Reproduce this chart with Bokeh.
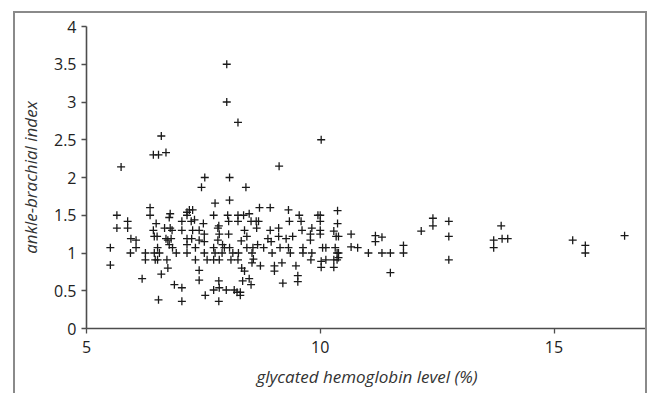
from bokeh.plotting import figure
from bokeh.embed import file_html
from bokeh.resources import INLINE
from bokeh.models import FixedTicker, Range1d

hba1c = [
    8.0, 8.0, 8.24, 6.6, 6.43, 6.54, 6.70, 5.74, 10.02, 9.12, 7.53, 8.06, 7.46, 8.41, 8.06, 7.75,
    5.51, 5.51, 5.65, 5.65, 5.88, 5.88, 5.94, 5.95, 6.06, 6.06, 6.19, 6.26, 6.26, 6.36, 6.36,
    6.43, 6.49, 6.45, 6.51, 6.45, 6.52, 6.47, 6.52, 6.54, 6.60, 6.56, 6.67, 6.70, 6.74, 6.72,
    6.74, 6.77, 6.79, 6.81, 6.79, 6.77, 6.88, 6.92, 6.83, 6.84, 7.04, 7.04, 7.04, 7.04, 7.15,
    7.15, 7.15, 7.15, 7.15, 7.20, 7.27, 7.24, 7.25, 7.27, 7.33, 7.33, 7.31, 7.41, 7.41, 7.50,
    7.52, 7.52, 7.52, 7.54, 7.41, 7.41, 7.58, 7.72, 7.72, 7.72, 7.72, 7.75, 7.81, 7.84, 7.81,
    7.83, 7.84, 7.83, 7.84, 7.83, 7.91, 7.95, 7.90, 7.99, 8.02, 8.04, 8.04, 8.06, 8.09, 8.13,
    8.16, 8.22, 8.24, 8.24, 8.29, 8.29, 8.24, 8.25, 8.31, 8.32, 8.34, 8.36, 8.38, 8.38, 8.43,
    8.43, 8.48, 8.48, 8.52, 8.52, 8.54, 8.56, 8.54, 8.57, 8.63, 8.64, 8.66, 8.70, 8.68, 8.72,
    8.79, 8.88, 8.93, 8.93, 8.95, 8.97, 9.02, 9.02, 9.11, 9.11, 9.14, 9.18, 9.20, 9.27, 9.32,
    9.34, 9.32, 9.36, 9.41, 9.48, 9.52, 9.52, 9.55, 9.59, 9.61, 9.63, 9.63, 9.79, 9.79, 9.80,
    9.82, 9.82, 9.95, 10.0, 10.0, 10.0, 10.0, 10.02, 10.02, 10.05, 10.12, 10.12, 10.29, 10.29,
    10.29, 10.32, 10.34, 10.36, 10.36, 10.37, 10.37, 10.39, 10.39, 10.39,
    10.66, 10.66, 10.80, 11.03, 11.18, 11.18, 11.32, 11.32, 11.50, 11.50, 11.78, 11.78, 12.16,
    12.41, 12.41, 12.75, 12.75, 12.75, 13.71, 13.71, 13.87, 13.89, 14.01, 15.40, 15.67, 15.67,
    16.51,
]
abi = [
    3.50, 3.0, 2.73, 2.55, 2.30, 2.30, 2.33, 2.14, 2.50, 2.15, 2.0, 2.0, 1.87, 1.87, 1.70, 1.66,
    1.07, 0.84, 1.50, 1.33, 1.42, 1.33, 1.0, 1.19, 1.17, 1.07, 0.66, 1.0, 0.91, 1.60, 1.50,
    1.30, 1.39, 1.22, 1.22, 1.0, 1.07, 0.91, 0.91, 0.38, 0.72, 1.0, 1.33, 1.19, 1.17, 0.91,
    0.80, 1.47, 1.33, 1.19, 1.52, 1.11, 0.58, 1.0, 1.30, 1.07, 0.54, 1.42, 1.30, 0.36, 1.50,
    1.54, 1.19, 1.11, 1.0, 1.57, 1.57, 1.42, 1.19, 1.30, 1.07, 0.91, 1.44, 0.77, 0.64, 1.39,
    1.25, 1.15, 1.0, 0.44, 1.30, 1.17, 0.91, 1.50, 1.07, 0.91, 0.51, 1.0, 1.33, 1.25, 1.17,
    0.63, 0.91, 0.36, 0.54, 1.36, 1.11, 1.07, 1.0, 0.51, 1.50, 1.42, 1.25, 1.07, 0.91, 1.0,
    0.51, 0.48, 1.42, 1.50, 0.48, 0.44, 0.91, 1.0, 1.16, 0.80, 0.63, 1.50, 0.76, 1.30, 1.07,
    1.22, 1.52, 0.66, 1.42, 0.58, 1.0, 1.07, 0.87, 0.92, 1.42, 1.33, 1.11, 1.60, 1.42, 0.83,
    1.07, 1.19, 1.60, 1.30, 1.15, 1.0, 0.83, 0.76, 1.33, 1.22, 1.07, 0.87, 0.60, 1.19, 1.57,
    1.42, 1.07, 1.0, 1.22, 0.83, 0.70, 0.62, 1.50, 1.42, 1.30, 1.07, 1.0, 1.25, 1.17, 0.91,
    1.0, 1.33, 1.50, 1.50, 1.42, 1.25, 1.30, 0.89, 0.81, 1.07, 1.07, 0.91, 1.29, 0.91,
    0.81, 1.07, 1.22, 1.0, 0.91, 1.56, 1.39, 1.22, 1.0, 0.94,
    1.25, 1.08, 1.07, 1.0, 1.23, 1.15, 1.21, 1.0, 1.0, 0.74, 1.10, 1.0, 1.29,
    1.46, 1.36, 1.42, 1.22, 0.91, 1.17, 1.07, 1.36, 1.19, 1.19, 1.17, 1.10, 1.0,
    1.23,
]

x_ticks = [5, 10, 15]
y_ticks = [0, 0.5, 1, 1.5, 2, 2.5, 3, 3.5, 4]

FONT = "Open Sans"
AXIS_COLOR = "#4d4d4d"

p = figure(
    width=634, height=382,
    x_range=Range1d(5, 17), y_range=Range1d(0, 4),
    output_backend="svg", toolbar_location=None,
    min_border_left=60, min_border_right=2, min_border_top=13, min_border_bottom=67,
)
p.margin = (11, 0, 0, 13)
p.styles = {
    "border-left": "2px solid #8a8a8a",
    "border-top": "2px solid #8a8a8a",
    "border-right": "2px solid #8a8a8a",
}
p.outline_line_color = None
p.xgrid.visible = False
p.ygrid.visible = False

p.scatter(hba1c, abi, marker="cross", size=8, line_color="#1a1a1a", line_width=1.3)

for ax in (p.xaxis[0], p.yaxis[0]):
    ax.axis_line_color = AXIS_COLOR
    ax.axis_line_width = 1.6
    ax.major_tick_line_color = AXIS_COLOR
    ax.major_tick_line_width = 1.3
    ax.major_tick_in = 0
    ax.major_tick_out = 5
    ax.minor_tick_line_color = None
    ax.major_label_text_font = FONT
    ax.major_label_text_font_size = "16px"
    ax.major_label_text_color = "#222222"
    ax.axis_label_text_font = FONT
    ax.axis_label_text_font_size = "17px"
    ax.axis_label_text_font_style = "italic"
    ax.axis_label_text_color = "#333333"

p.xaxis.ticker = FixedTicker(ticks=x_ticks)
p.yaxis.ticker = FixedTicker(ticks=y_ticks)
p.yaxis.major_label_overrides = {0.5: "0.5", 1: "1", 1.5: "1.5", 2: "2", 2.5: "2.5",
                                 3: "3", 3.5: "3.5", 4: "4", 0: "0"}
p.xaxis.axis_label = "glycated hemoglobin level (%)"
p.yaxis.axis_label = "ankle-brachial index"
p.xaxis.major_label_standoff = 7
p.xaxis.axis_label_standoff = 9
p.yaxis.major_label_standoff = 5
p.yaxis.axis_label_standoff = 9

open("out.html", "w").write(file_html(p, INLINE))
